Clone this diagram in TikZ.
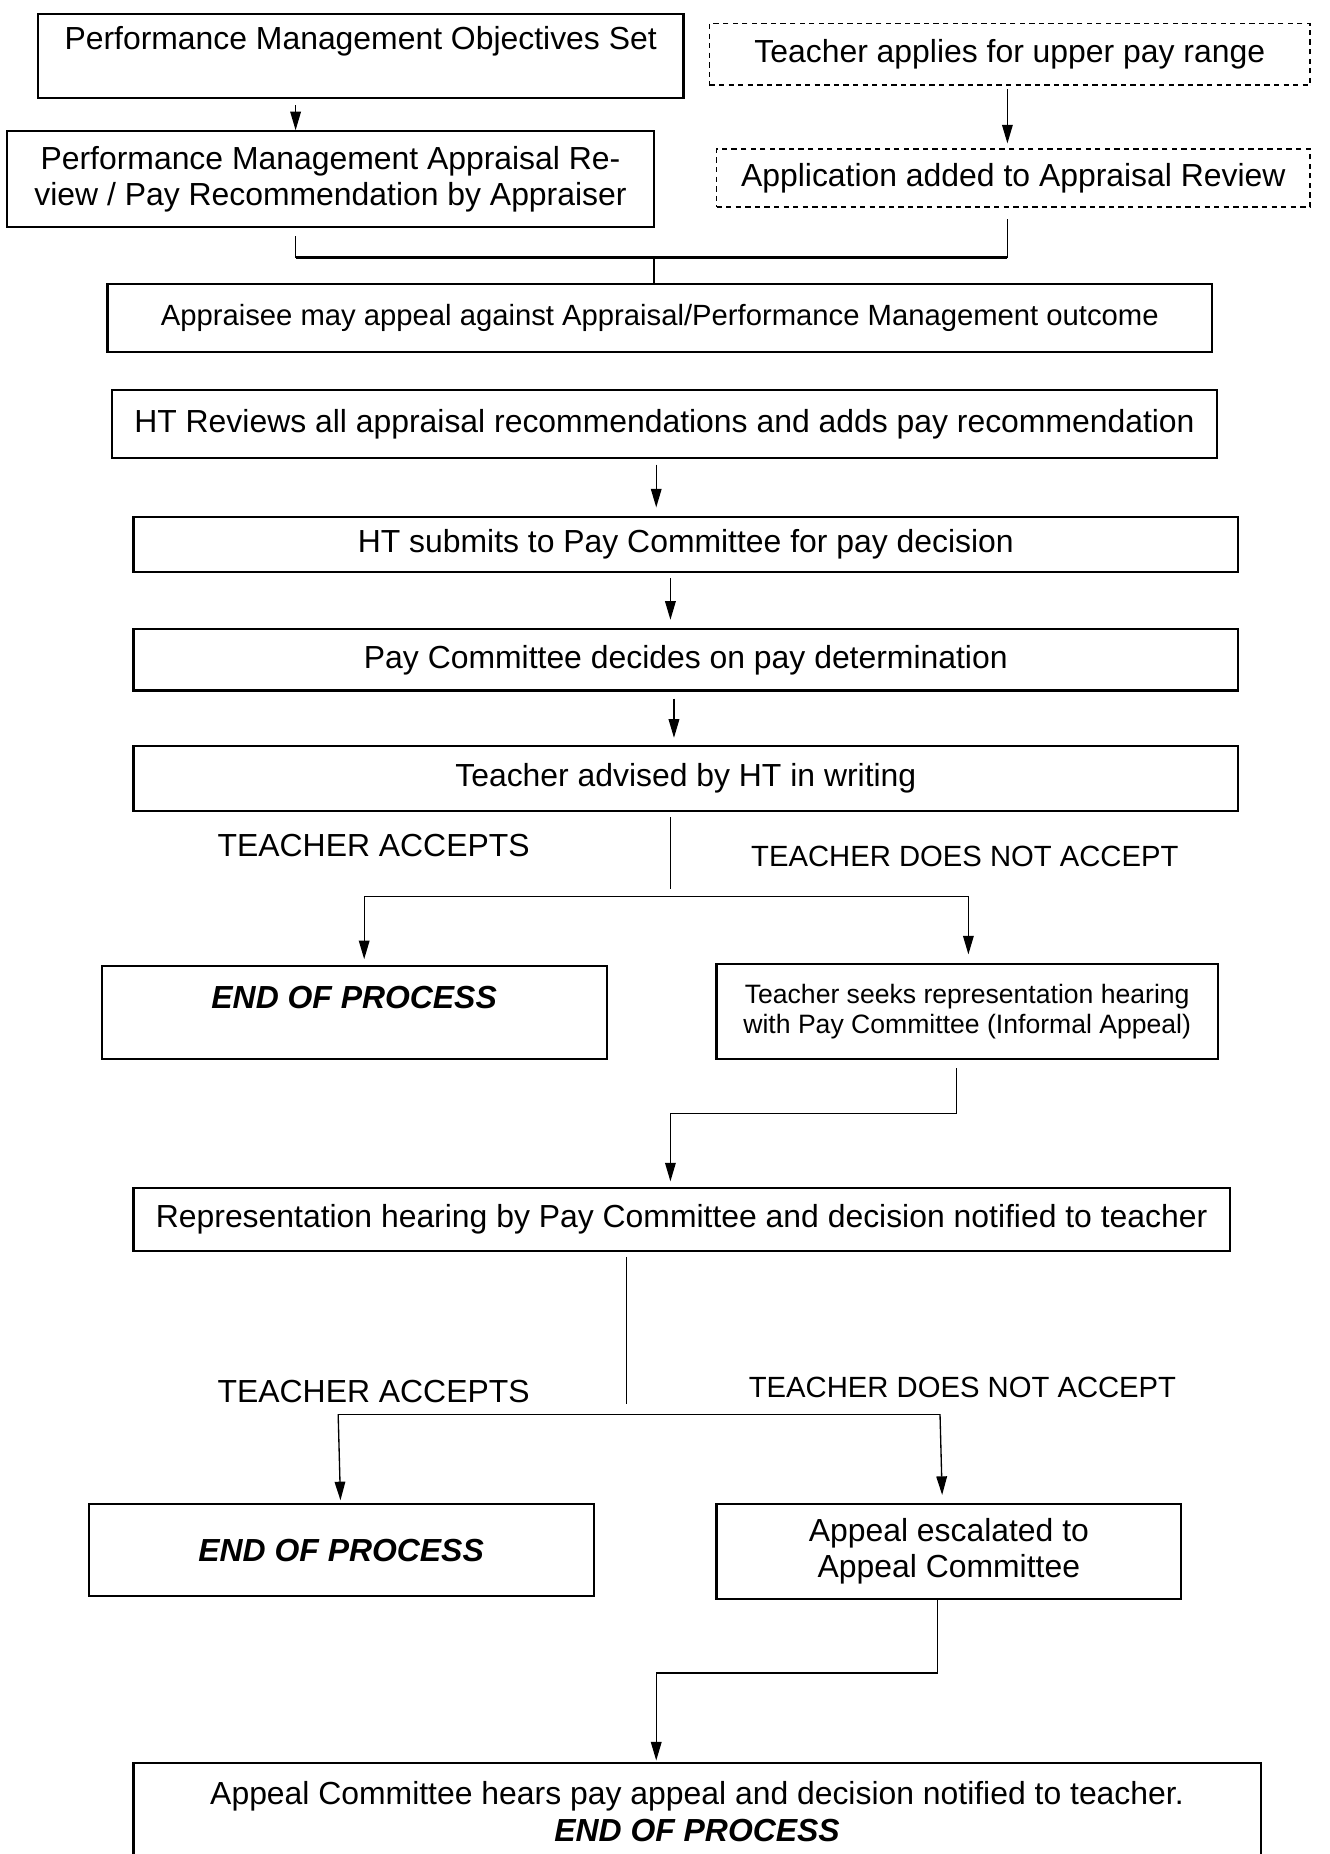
\documentclass[tikz,border=0pt]{standalone}
\usepackage{fontspec}
\setmainfont{Liberation Sans}
\usetikzlibrary{arrows.meta}
\tikzset{box/.style 2 args={draw, line width=0.8pt, minimum width=#1, minimum height=#2, inner sep=0pt, align=center}}
\tikzset{dbox/.style 2 args={box={#1}{#2}, line width=0.6pt, dash pattern=on 2pt off 1.6pt}}
\tikzset{line/.style={line width=0.5pt}}
\tikzset{arr/.style={line, -{Triangle[length=7pt,width=4pt]}}}
\newcommand{\boxfont}{\fontsize{12pt}{13.8pt}\selectfont}
\newcommand{\smallfont}{\fontsize{11pt}{13pt}\selectfont}

\begin{document}
\begin{tikzpicture}[x=0.4448pt, y=-0.4448pt, font=\boxfont]
\useasboundingbox (0,0) rectangle (1124,1568);
% top part
\node[box={242.9pt}{31.6pt}, text height=13.2pt, text depth=18.4pt] (obj) at (305,47.5) {Performance Management Objectives Set};
\node[dbox={226pt}{23.1pt}] (upr) at (854,46) {Teacher applies for upper pay range};
\node[box={243.3pt}{36pt}] (appr) at (279.5,151.5) {Performance Management Appraisal Re-\\view / Pay Recommendation by Appraiser};
\node[dbox={223.3pt}{21.8pt}] (added) at (857,150.5) {Application added to Appraisal Review};
\node[box={415.5pt}{25.8pt}, font=\smallfont] (appeal) at (558,269) {Appraisee may appeal against Appraisal/Performance Management outcome};
\draw[arr, shorten <=2.2pt] (obj.south -| 250,0) -- (appr.north -| 250,0);
\draw[arr, shorten <=1.3pt, shorten >=1.8pt] (upr.south -| 852,0) -- (added.north -| 852,0);
\coordinate (jl) at (250,218);
\coordinate (jr) at (852,218);
\coordinate (jn) at (553,218);
\draw[line, shorten <=3pt] (appr.south -| jl) -- (jl);
\draw[line, shorten <=4.4pt] (added.south -| jr) -- (jr);
\draw[line width=1pt] (jl) -- (jr);
\draw[line] (jn) -- (appeal.north -| jn);
% pay decision
\node[box={415.5pt}{25.4pt}] (htrev) at (562,358.5) {HT Reviews all appraisal recommendations and adds pay recommendation};
\node[box={415.5pt}{20.9pt}] (htsub) at (580,460.5) {HT submits to Pay Committee for pay decision};
\node[box={415.5pt}{23.1pt}] (paydec) at (580,558) {Pay Committee decides on pay determination};
\node[box={415.5pt}{24.5pt}] (advised) at (580,658.5) {Teacher advised by HT in writing};
\draw[arr, shorten <=2.2pt, shorten >=3.1pt] (htrev.south -| 555,0) -- (htsub.north -| 555,0);
\draw[arr, shorten <=1.8pt, shorten >=3.1pt] (htsub.south -| 567,0) -- (paydec.north -| 567,0);
\draw[arr, shorten <=2.7pt, shorten >=2.7pt] (paydec.south -| 570,0) -- (advised.north -| 570,0);
% first answer
\node (accA) at (316,715) {TEACHER ACCEPTS};
\node[font=\smallfont] (rejA) at (816,724) {TEACHER DOES NOT ACCEPT};
\node[box={190pt}{35.1pt}, text height=16pt, text depth=19.1pt, font=\boxfont\bfseries\itshape] (endA) at (299.5,856.5) {END OF PROCESS};
\node[box={188.6pt}{36pt}, font=\fontsize{10pt}{11.1pt}\selectfont] (seek) at (818,855.5) {Teacher seeks representation hearing\\with Pay Committee (Informal Appeal)};
\coordinate (s1) at (567,752);
\coordinate (s1l) at (308,758);
\coordinate (s1r) at (819,758);
\draw[line, shorten <=1.8pt] (advised.south -| s1) -- (s1);
\draw[line] (s1l) -- (s1r);
\draw[arr, shorten >=2.2pt] (s1l) -- (endA.north -| s1l);
\draw[arr, shorten >=3.1pt] (s1r) -- (seek.north -| s1r);
% representation hearing
\node[box={412.4pt}{23.6pt}] (rephear) at (576.5,1031.5) {Representation hearing by Pay Committee and decision notified to teacher};
\coordinate (s2) at (809,942);
\coordinate (s2l) at (567,942);
\draw[arr, shorten <=3pt, shorten >=2.2pt] (seek.south -| s2) -- (s2) -- (s2l) -- (rephear.north -| s2l);
% second answer
\node (accB) at (316,1177) {TEACHER ACCEPTS};
\node[font=\smallfont] (rejB) at (814,1173) {TEACHER DOES NOT ACCEPT};
\node[box={190pt}{34.7pt}, font=\boxfont\bfseries\itshape] (endB) at (288.5,1311) {END OF PROCESS};
\node[box={174.8pt}{35.6pt}] (escal) at (802.5,1312) {Appeal escalated to\\Appeal Committee};
\coordinate (s3) at (530,1187);
\coordinate (s3l) at (286,1196);
\coordinate (s3r) at (795,1196);
\draw[line, shorten <=1.8pt] (rephear.south -| s3) -- (s3);
\draw[line] (s3l) -- (s3r);
\draw[arr, shorten >=1pt] (s3l) -- (endB.north -| 288,0);
\draw[arr, shorten >=3pt] (s3r) -- (escal.north -| 797,0);
% appeal committee
\node[box={424pt}{36.5pt}] (final) at (589.5,1532) {Appeal Committee hears pay appeal and decision notified to teacher.\\\textbf{\textit{END OF PROCESS}}};
\coordinate (s4) at (793,1415);
\coordinate (s4l) at (555,1415);
\draw[arr, shorten >=0.5pt] (escal.south -| s4) -- (s4) -- (s4l) -- (final.north -| s4l);
\end{tikzpicture}
\end{document}
